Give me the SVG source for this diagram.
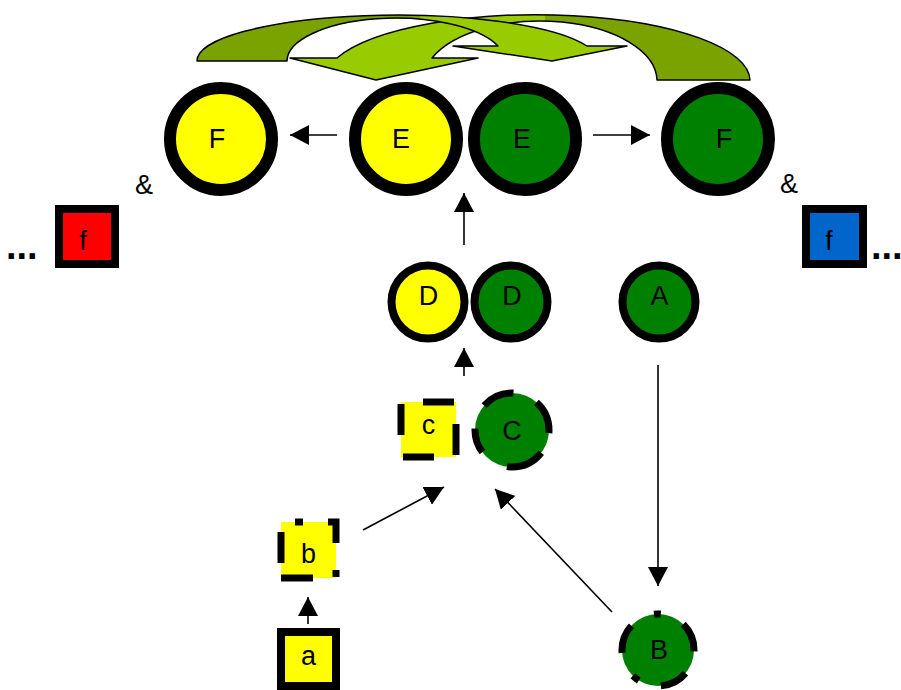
<svg xmlns="http://www.w3.org/2000/svg" width="901" height="690" viewBox="0 0 901 690">
  <style>
    .lbl { font-family: "Liberation Sans", Arial, sans-serif; font-size: 27px; fill: #000; text-anchor: middle; }
    .dots { font-family: "Liberation Sans", Arial, sans-serif; font-size: 38px; font-weight: bold; fill: #000; }
    .ring { stroke: #000; stroke-width: 12; }
    .ring-s { stroke: #000; stroke-width: 8; }
    .sq { stroke: #000; stroke-width: 8; }
    .dash { stroke: #000; stroke-width: 7; stroke-linecap: butt; }
    .yel { fill: #ffff00; }
    .grn { fill: #008000; }
    .conn { stroke: #000; stroke-width: 1.6; fill: none; marker-end: url(#head); }
    .bend { stroke: #000; stroke-width: 1.5; stroke-linejoin: round; }
  </style>
  <defs>
    <marker id="head" markerUnits="userSpaceOnUse" markerWidth="20" markerHeight="20" refX="19" refY="10" orient="auto">
      <path d="M0,0 L19,10 L0,20 Z" fill="#000"/>
    </marker>
    <!-- curved arrow outlines -->
    <path id="curveA" d="M750,80 A213,66 0 0 0 337,58 L290,58 L376,80 L478,58 L432,58 A117,60 0 0 1 657,80 Z"/>
    <path id="curveB" d="M197,61 A200.5,46 0 0 1 587,46 L627,46 L552,61 L453,46 L498,46 A109,43 0 0 0 287,61 Z"/>
    <clipPath id="tailA"><rect x="545" y="0" width="220" height="100"/></clipPath>
    <clipPath id="tailB"><rect x="180" y="0" width="240" height="100"/></clipPath>
  </defs>

  <!-- cycle arrows over the top row -->
  <g id="cycle-arrows">
    <g id="arrow-left">
      <use href="#curveA" fill="#99cc00"/>
      <use href="#curveA" fill="#7aa300" clip-path="url(#tailA)"/>
      <use href="#curveA" fill="none" class="bend"/>
    </g>
    <g id="arrow-right">
      <use href="#curveB" fill="#99cc00"/>
      <use href="#curveB" fill="#7aa300" clip-path="url(#tailB)"/>
      <use href="#curveB" fill="none" class="bend"/>
    </g>
  </g>

  <g id="connectors">
    <line class="conn" x1="337" y1="135" x2="290" y2="135"/>
    <line class="conn" x1="593" y1="135" x2="650" y2="135"/>
    <line class="conn" x1="464" y1="245" x2="464" y2="193"/>
    <line class="conn" x1="464" y1="376" x2="464" y2="348"/>
    <line class="conn" x1="658" y1="365" x2="658" y2="586"/>
    <line class="conn" x1="363" y1="530" x2="444" y2="487"/>
    <line class="conn" x1="612" y1="612" x2="495" y2="489"/>
    <line class="conn" x1="308" y1="624" x2="308" y2="597"/>
  </g>

  <g id="node-F-yellow">
    <circle class="ring yel" cx="221" cy="139" r="51"/>
    <text class="lbl" x="217" y="148">F</text>
  </g>
  <g id="node-E-yellow">
    <circle class="ring yel" cx="406" cy="139" r="51"/>
    <text class="lbl" x="401" y="148">E</text>
  </g>
  <g id="node-E-green">
    <circle class="ring grn" cx="525" cy="139" r="51"/>
    <text class="lbl" x="522" y="148">E</text>
  </g>
  <g id="node-F-green">
    <circle class="ring grn" cx="718" cy="139" r="51"/>
    <text class="lbl" x="724" y="148">F</text>
  </g>

  <g id="amp-left"><text class="lbl" x="144" y="194">&amp;</text></g>
  <g id="amp-right"><text class="lbl" x="789" y="193">&amp;</text></g>

  <g id="node-f-red">
    <rect class="sq" x="59" y="209" width="56" height="55" fill="#ff0000"/>
    <text class="lbl" x="83" y="250">f</text>
  </g>
  <g id="node-f-blue">
    <rect class="sq" x="806" y="209" width="57" height="55" fill="#0066cc"/>
    <text class="lbl" x="829" y="250">f</text>
  </g>
  <g id="more-left"><text class="dots" x="6" y="259">...</text></g>
  <g id="more-right"><text class="dots" x="871" y="259">...</text></g>

  <g id="node-D-yellow">
    <circle class="ring-s yel" cx="428" cy="302" r="36.5"/>
    <text class="lbl" x="428.5" y="305" font-size="25">D</text>
  </g>
  <g id="node-D-green">
    <circle class="ring-s grn" cx="511" cy="302" r="36.5"/>
    <text class="lbl" x="512" y="305" font-size="25">D</text>
  </g>
  <g id="node-A">
    <circle class="ring-s grn" cx="659" cy="302" r="36.5"/>
    <text class="lbl" x="659.5" y="305" font-size="25">A</text>
  </g>

  <g id="node-c">
    <rect x="401" y="402" width="55" height="55" class="yel"/>
    <rect x="401" y="402" width="55" height="55" fill="none" class="dash" stroke-dasharray="31 24" stroke-dashoffset="33"/>
    <text class="lbl" x="428.5" y="434">c</text>
  </g>
  <g id="node-C">
    <circle cx="512" cy="430" r="37" class="grn"/>
    <circle cx="512" cy="430" r="37" fill="none" class="dash" stroke-dasharray="3.2 21.3 38.7 29.1 25.2 25.2 32.9 25.2 31.6 0"/>
    <text class="lbl" x="512" y="440">C</text>
  </g>

  <g id="node-b">
    <rect x="281" y="522" width="55" height="56" class="yel"/>
    <rect x="281" y="522" width="55" height="56" fill="none" class="dash" stroke-width="8" stroke-dasharray="0 14 8 25 29 27 7 24 32 15 31 10"/>
    <text class="lbl" x="308.5" y="563">b</text>
  </g>
  <g id="node-a">
    <rect class="sq yel" x="281" y="632" width="55" height="54"/>
    <text class="lbl" x="308.5" y="665">a</text>
  </g>

  <g id="node-B">
    <circle cx="658" cy="650" r="36" class="grn"/>
    <circle cx="658" cy="650" r="36" fill="none" class="dash" stroke-dasharray="1.3 23.9 28.3 23.2 7.5 25.8 29.5 25.8 6.9 25.1 28.9 0"/>
    <text class="lbl" x="659" y="659">B</text>
  </g>
</svg>
